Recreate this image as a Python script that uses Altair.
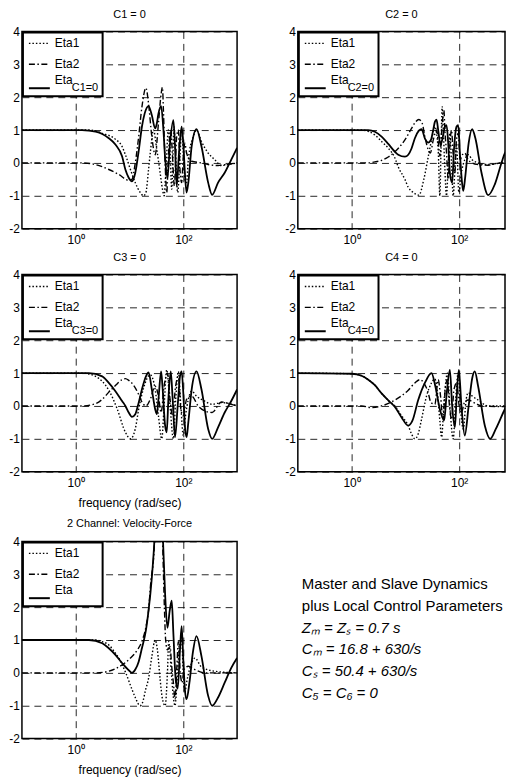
import altair as alt
import pandas as pd

FONT = "Liberation Sans"
X_DOMAIN = [0.1, 1000]
X_DOMAIN_RIGHT = [0.1, 711]   # right column is cut by the page edge, as in the reference
Y_DOMAIN = [-2, 4]
x_tick_values = [1, 100]
x_tick_labels = ["10⁰", "10²"]
y_tick_values = [-2, -1, 0, 1, 2, 3, 4]
y_tick_labels = ["-2", "-1", "0", "1", "2", "3", "4"]
panel_titles = ["C1 = 0", "C2 = 0", "C3 = 0", "C4 = 0", "2 Channel: Velocity-Force"]
legend_labels = ["Eta1", "Eta2", "Eta"]
legend_subs = ["C1=0", "C2=0", "C3=0", "C4=0", ""]
x_title = "frequency (rad/sec)"
note_lines = ["Master and Slave Dynamics", "plus Local Control Parameters"]
formula_lines = ["Zₘ = Zₛ = 0.7 s", "Cₘ = 16.8 + 630/s", "Cₛ = 50.4 + 630/s", "C₅ = C₆ = 0"]

# ---- panel 1 (C1 = 0) : (frequency, value)
p1_eta1 = [(0.1, 1), (1.76, 1), (3.11, 0.9), (5.47, 0.72), (7.27, 0.5), (8.38, 0.25), (10.4, -0.2),
           (12.8, -0.6), (15.8, -0.9), (18.3, -1.0), (20.2, -0.9), (22.6, -0.2), (24.3, 0.3), (27.9, 1.0),
           (32.2, 0.4), (37.1, -0.3), (41.0, -0.8), (44.0, -1.0), (47.2, -0.3), (52.8, 1.0), (56.7, 0.4),
           (60.9, -0.8), (67.3, 1.1), (72.2, 0.2), (78.6, -0.9), (86.8, 0.2), (93.1, 1.0), (100, 0.3),
           (107, -0.5), (115, -0.6), (124, 0.1), (153, 0.8), (176, 1.0), (218, 0.65), (290, 0.3),
           (384, 0.1), (510, -0.08), (677, -0.05), (1000, 0.0)]
p1_eta2 = [(0.1, 0), (1.33, 0), (2.34, -0.05), (4.12, -0.2), (6.31, -0.35), (9.66, -0.53), (11.1, -0.5),
           (12.8, 0.0), (14.8, 0.8), (17.0, 1.7), (20.2, 2.28), (22.6, 1.8), (26.0, 0.8), (30.0, 0.25),
           (34.5, 1.2), (38.7, 2.1), (41.0, 2.3), (42.7, 1.6), (45.9, 0.0), (49.2, -0.9), (52.8, 0.2),
           (58.4, 1.0), (63.0, 0.2), (68.2, -0.7), (75.3, 0.8), (80.9, 1.0), (86.8, -0.2), (93.1, -0.6),
           (100, 0.2), (107, 0.6), (115, 0.3), (143, 0.05), (218, 0.0), (290, -0.05), (443, -0.08),
           (588, -0.05), (1000, 0.0)]
p1_eta = [(0.1, 1), (1.33, 1), (2.34, 0.95), (3.11, 0.88), (4.12, 0.75), (5.47, 0.56), (7.27, 0.2),
          (8.38, -0.2), (9.66, -0.45), (11.1, -0.56), (12.8, -0.3), (14.8, 0.36), (17.0, 1.1), (19.1, 1.5),
          (22.6, 1.73), (26.0, 1.45), (30.0, 1.05), (32.2, 1.2), (34.5, 1.5), (38.7, 1.73), (42.7, 1.0),
          (45.9, 0.15), (50.7, -0.45), (56.7, 0.6), (65.4, 1.3), (70.2, 0.5), (75.3, -0.7), (83.2, 0.3),
          (93.1, 1.1), (100, 0.6), (107, -0.3), (115, -0.9), (124, -0.6), (143, 0.5), (176, 1.03),
          (218, 0.5), (290, -0.6), (343, -0.97), (443, -0.6), (588, -0.3), (780, 0.1), (1000, 0.46)]

# ---- panel 2 (C2 = 0)
p2_eta1 = [(0.1, 1), (1.53, 1), (2.71, 0.85), (3.61, 0.65), (4.8, 0.45), (6.38, 0.15), (7.36, -0.12),
           (9.79, -0.5), (11.3, -0.74), (14.0, -0.9), (17.8, -0.98), (22.0, -0.5), (26.6, 0.19),
           (30.6, 0.7), (35.3, 1.1), (40.7, 0.4), (43.7, -1.0), (46.0, 0.5), (48.3, 1.71), (51.0, 0.9),
           (54.2, -0.2), (58.2, -1.0), (62.5, 0.0), (67.1, 0.9), (72.0, 0.0), (77.4, -1.0), (83.1, -0.2),
           (89.2, 0.6), (98.6, -0.9), (110, -0.3), (127, 0.1), (147, 0.25), (174, 0.1), (225, 0.0),
           (346, -0.05), (611, 0.0), (1000, 0.0)]
p2_eta2 = [(0.1, 0), (2.04, 0), (2.71, 0.03), (3.61, 0.08), (4.8, 0.18), (6.38, 0.34), (9.79, 0.7),
           (13.0, 1.05), (15.0, 1.22), (17.8, 1.32), (20.6, 1.2), (23.0, 0.8), (26.6, 0.4), (29.0, 0.3),
           (33.0, 0.7), (37.9, 1.0), (41.0, 0.6), (44.0, 0.2), (47.0, 0.9), (52.0, 1.6), (54.2, 1.0),
           (58.2, 0.3), (62.5, -0.5), (67.0, 0.5), (72.0, 1.0), (77.0, 0.3), (83.0, -0.3), (89.0, 0.7),
           (95.8, 0.9), (104, 0.1), (115, 0.25), (127, 0.3), (147, 0.1), (174, 0.0), (225, -0.05),
           (346, -0.07), (460, -0.03), (611, 0.0), (1000, 0.0)]
p2_eta = [(0.1, 1), (2.04, 1), (2.71, 0.95), (3.61, 0.8), (4.8, 0.58), (6.38, 0.34), (7.36, 0.25),
          (9.79, 0.19), (11.3, 0.25), (13.0, 0.44), (15.0, 0.75), (17.8, 0.98), (20.0, 1.03), (23.0, 0.75),
          (26.6, 0.62), (29.8, 0.7), (32.9, 1.0), (35.3, 1.25), (37.9, 1.32), (40.7, 1.0), (44.8, 0.55),
          (48.3, 0.7), (54.2, 1.1), (58.2, 1.15), (62.5, 0.6), (67.1, -0.3), (74.1, -0.6), (80.0, 0.4),
          (89.2, 1.1), (95.8, 1.15), (104, 0.2), (113, -0.6), (119, -0.85), (130, -0.4), (150, 0.6),
          (174, 1.03), (200, 0.75), (260, -0.3), (346, -0.98), (460, -0.65), (611, 0.0), (705, 0.29),
          (1000, 0.55)]

# ---- panel 3 (C3 = 0)
p3_eta1 = [(0.1, 1), (1.33, 1), (2.34, 0.9), (3.11, 0.75), (4.12, 0.48), (5.87, -0.08), (8.38, -0.8),
           (10.4, -1.0), (12.8, -0.7), (14.8, -0.1), (18.3, 0.55), (24.3, 0.95), (30.0, 0.5), (34.5, -0.3),
           (39.8, -1.0), (44.0, 0.0), (49.2, 1.1), (56.7, 0.0), (65.4, -1.0), (72.2, 0.2), (80.9, 1.05),
           (90.0, 0.0), (100, -0.9), (110, -0.3), (124, 0.2), (143, 0.45), (176, 0.3), (250, 0.15),
           (343, 0.05), (510, 0.1), (677, 0.08), (1000, 0.0)]
p3_eta2 = [(0.1, 0), (1.33, 0), (2.34, 0.07), (3.11, 0.2), (4.12, 0.42), (5.47, 0.62), (7.27, 0.8),
           (8.38, 0.83), (9.66, 0.78), (11.9, 0.63), (14.8, 0.35), (17.0, 0.12), (20.2, 0.0), (24.3, 0.2),
           (30.0, 0.6), (34.5, 0.3), (38.7, -0.2), (44.0, 0.6), (50.7, 1.0), (56.7, 0.2), (63.0, -0.3),
           (72.0, 0.6), (80.9, 0.9), (90.0, -0.1), (100, -0.3), (115, 0.2), (143, 0.3), (189, 0.0),
           (250, -0.15), (343, -0.2), (510, 0.12), (780, 0.05), (1000, 0.0)]
p3_eta = [(0.1, 1), (1.76, 1), (3.11, 0.9), (4.12, 0.7), (5.47, 0.45), (7.27, 0.15), (8.38, 0.0),
          (9.66, -0.2), (11.1, -0.33), (12.8, -0.25), (14.8, 0.1), (17.0, 0.5), (20.2, 0.9), (22.6, 1.02),
          (26.0, 0.5), (30.0, -0.1), (32.2, -0.25), (34.5, 0.2), (38.7, 1.05), (41.0, 0.6), (45.9, -0.6),
          (49.2, -0.8), (52.8, 0.2), (58.4, 1.05), (63.0, 0.3), (70.2, -0.95), (78.6, 0.0), (86.8, 0.9),
          (93.1, 1.05), (100, 0.4), (107, -0.6), (115, -0.95), (124, -0.5), (143, 0.5), (176, 1.05),
          (218, 0.5), (290, -0.7), (343, -1.0), (443, -0.65), (588, -0.2), (780, 0.15), (1000, 0.5)]

# ---- panel 4 (C4 = 0)
p4_eta1 = [(0.1, 1), (1.0, 0.98), (1.53, 0.92), (2.04, 0.8), (2.71, 0.63), (3.61, 0.38), (4.8, 0.17),
           (6.38, 0.0), (8.5, -0.3), (11.3, -0.6), (13.0, -0.85), (15.0, -1.0), (17.3, -0.85), (20.0, -0.4),
           (24.7, 0.3), (30.6, 0.7), (35.3, 0.82), (40.0, 0.3), (44.0, -0.5), (47.0, -0.95), (52.6, 0.2),
           (60.7, 1.0), (67.0, 0.0), (77.4, -1.0), (86.0, 0.2), (95.8, 1.0), (105, 0.0), (119, -0.7),
           (135, 0.2), (147, 0.4), (175, 0.3), (225, 0.18), (346, 0.0), (611, 0.0), (1000, 0.0)]
p4_eta2 = [(0.1, 0), (1.53, 0), (2.35, -0.05), (3.61, 0.0), (6.38, 0.18), (11.3, 0.48), (15.0, 0.7),
           (18.6, 0.8), (22.0, 0.7), (26.0, 0.45), (30.0, 0.1), (35.3, 0.05), (40.7, 0.8), (45.0, 0.3),
           (50.0, -0.4), (55.0, 0.5), (60.0, 0.8), (66.0, 0.0), (72.0, -0.4), (80.0, 0.5), (90.0, 0.7),
           (100, 0.0), (110, -0.2), (125, 0.1), (147, 0.18), (200, 0.08), (260, 0.0), (611, -0.02),
           (1000, 0.0)]
p4_eta = [(0.1, 1), (1.0, 0.98), (1.53, 0.92), (2.04, 0.8), (2.71, 0.63), (3.61, 0.38), (4.8, 0.17),
          (6.38, -0.03), (8.5, -0.35), (11.3, -0.6), (13.5, -0.45), (17.3, 0.18), (23.0, 0.7), (30.6, 1.0),
          (36.0, 0.6), (43.7, -0.1), (52.6, -0.44), (58.0, 0.3), (67.1, 1.1), (74.0, 0.0), (83.1, -0.65),
          (90.0, 0.3), (98.6, 1.1), (110, 0.0), (127, -0.9), (150, 0.0), (175, 0.85), (195, 1.05),
          (225, 0.6), (300, -0.6), (377, -1.0), (480, -0.7), (705, -0.1), (1000, 0.35)]

# ---- panel 5 (2 Channel: Velocity-Force)
p5_eta1 = [(0.1, 1), (2.34, 1), (3.11, 0.95), (4.12, 0.85), (5.47, 0.6), (6.31, 0.45), (8.38, 0.03),
           (11.1, -0.5), (12.8, -0.75), (15.8, -1.0), (17.5, -0.9), (20.0, -0.5), (22.6, -0.17), (26.0, 0.5),
           (30.0, 1.0), (33.0, 0.7), (37.1, -0.2), (41.0, -0.8), (46.0, -1.0), (50.7, 0.0), (53.5, 0.95),
           (60.0, 0.0), (65.0, -0.7), (70.2, -1.0), (78.0, 0.0), (86.0, 0.9), (93.1, 1.0), (100, 0.0),
           (107, -0.6), (115, -0.3), (143, 0.3), (164, 0.45), (218, 0.18), (384, 0.05), (1000, 0.0)]
p5_eta2 = [(0.1, 0), (2.34, 0), (4.12, 0.05), (7.27, 0.24), (10.4, 0.45), (14.0, 0.7), (17.0, 0.96),
           (20.2, 1.4), (22.6, 1.9), (25.0, 2.8), (27.9, 3.45), (30.0, 4.3), (33.0, 5.5), (37.0, 5.8),
           (40.0, 4.8), (42.0, 3.5), (44.5, 2.0), (47.0, 1.0), (50.7, 0.7), (56.7, 0.8), (60.9, 0.2),
           (65.4, -0.3), (70.2, -0.8), (76.0, 0.2), (80.9, 0.95), (88.0, 0.0), (95.0, -0.3), (103, 0.1),
           (124, 0.2), (164, 0.1), (250, 0.0), (1000, 0.0)]
p5_eta = [(0.1, 1), (1.76, 1), (3.11, 0.9), (4.12, 0.75), (5.47, 0.55), (7.27, 0.3), (9.66, 0.08),
          (11.1, 0.0), (12.8, 0.1), (14.8, 0.34), (17.0, 0.75), (20.2, 1.3), (22.6, 1.9), (26.0, 2.9),
          (28.5, 3.8), (32.0, 5.5), (36.0, 6.0), (40.0, 5.2), (42.0, 4.0), (45.9, 2.4), (50.7, 1.37),
          (56.0, 1.9), (60.9, 2.2), (65.4, 1.2), (72.2, -0.2), (78.6, -0.48), (86.8, 0.7), (93.1, 1.42),
          (100, 0.4), (107, -0.5), (115, -0.8), (130, -0.3), (150, 0.6), (176, 1.12), (218, 0.5),
          (290, -0.7), (343, -1.0), (443, -0.75), (588, -0.3), (780, 0.15), (1000, 0.45)]

W, WR, H = 216, 208, 198
DOTTED = [1.5, 2]
DASHDOT = [6, 2.5, 1.5, 2.5]
ONE = alt.InlineData(values=[{}])


def expr_from(values, labels):
    return "".join(f"datum.value == {v} ? '{t}' : " for v, t in zip(values, labels)) + "''"


x_label_expr = expr_from(x_tick_values, x_tick_labels)
y_label_expr = expr_from(y_tick_values, y_tick_labels)


def frame(pairs):
    return pd.DataFrame(pairs, columns=["f", "v"])


def panel(title, sub, eta1, eta2, eta, with_xtitle, right=False):
    x = alt.X("f:Q", scale=alt.Scale(type="log", domain=X_DOMAIN_RIGHT if right else X_DOMAIN),
              axis=alt.Axis(values=x_tick_values, labelExpr=x_label_expr,
                            title=x_title if with_xtitle else None))
    y = alt.Y("v:Q", scale=alt.Scale(domain=Y_DOMAIN, nice=False, zero=False),
              axis=alt.Axis(values=y_tick_values, labelExpr=y_label_expr, title=None, labelPadding=2.5))

    def line(pairs, dash, width):
        mk = dict(color="black", strokeWidth=width, clip=True, interpolate="monotone")
        if dash:
            mk["strokeDash"] = dash
        return alt.Chart(frame(pairs)).mark_line(**mk).encode(x=x, y=y)

    layers = [line(eta1, DOTTED, 1.4), line(eta2, DASHDOT, 1.4), line(eta, None, 1.8)]
    # legend box
    layers.append(alt.Chart(ONE).mark_rect(fill="white", stroke="black", strokeWidth=2)
                  .encode(x=alt.value(1), x2=alt.value(81), y=alt.value(1), y2=alt.value(65)))
    for ypos, dash, wdt in [(12, DOTTED, 1.4), (33, DASHDOT, 1.4), (57, None, 2)]:
        mk = dict(color="black", strokeWidth=wdt)
        if dash:
            mk["strokeDash"] = dash
        layers.append(alt.Chart(ONE).mark_rule(**mk)
                      .encode(x=alt.value(7), x2=alt.value(28), y=alt.value(ypos)))
    for lab, ypos in zip(legend_labels, [12, 33, 49]):
        layers.append(alt.Chart(ONE).mark_text(text=lab, align="left", baseline="middle", font=FONT,
                                              fontSize=12, color="black")
                      .encode(x=alt.value(33), y=alt.value(ypos)))
    if sub:
        layers.append(alt.Chart(ONE).mark_text(text=sub, align="left", baseline="middle", font=FONT,
                                              fontSize=11, color="black")
                      .encode(x=alt.value(50), y=alt.value(57)))
    return alt.layer(*layers).properties(width=WR if right else W, height=H, title=title,
                                         view=alt.ViewBackground(stroke="black", strokeWidth=1.5))


def notes():
    layers = []
    ys = [43, 65, 87, 108, 130, 152]
    for t, yp in zip(note_lines, ys[:2]):
        layers.append(alt.Chart(ONE).mark_text(text=t, align="left", baseline="middle", font=FONT,
                                              fontSize=15, color="black")
                      .encode(x=alt.value(4), y=alt.value(yp)))
    for t, yp in zip(formula_lines, ys[2:]):
        layers.append(alt.Chart(ONE).mark_text(text=t, align="left", baseline="middle", font=FONT,
                                              fontSize=15, fontStyle="italic", color="black")
                      .encode(x=alt.value(4), y=alt.value(yp)))
    return alt.layer(*layers).properties(width=WR, height=H,
                                         view=alt.ViewBackground(strokeWidth=0, stroke="transparent"))


p1 = panel(panel_titles[0], legend_subs[0], p1_eta1, p1_eta2, p1_eta, False)
p2 = panel(panel_titles[1], legend_subs[1], p2_eta1, p2_eta2, p2_eta, False, right=True)
p3 = panel(panel_titles[2], legend_subs[2], p3_eta1, p3_eta2, p3_eta, True)
p4 = panel(panel_titles[3], legend_subs[3], p4_eta1, p4_eta2, p4_eta, False, right=True)
p5 = panel(panel_titles[4], legend_subs[4], p5_eta1, p5_eta2, p5_eta, True)

row1 = alt.hconcat(p1, p2, spacing=61, bounds="flush")
row2 = alt.hconcat(p3, p4, spacing=61, bounds="flush")
row3 = alt.hconcat(p5, notes(), spacing=61, bounds="flush")
top = alt.vconcat(row1, row2, spacing=4)

chart = (
    alt.vconcat(top, row3, spacing=8)
    .properties(padding={"left": 0, "top": -2, "right": 0, "bottom": 0})
    .configure_view(strokeWidth=0)
    .configure_axis(labelFont=FONT, labelFontSize=12, labelColor="black", titleFont=FONT,
                    titleFontSize=12, titleFontWeight="normal", titleColor="black", grid=True,
                    gridColor="black", gridDash=[7, 5], gridWidth=1, gridOpacity=0.85,
                    domain=False, ticks=False, labelPadding=3)
    .configure_axisX(labelPadding=6, titlePadding=9)
    .configure_title(font=FONT, fontSize=11, fontWeight="normal", color="black", offset=6,
                     anchor="middle")
)

chart.save("out.html", embed_options={"renderer": "svg", "actions": False})
